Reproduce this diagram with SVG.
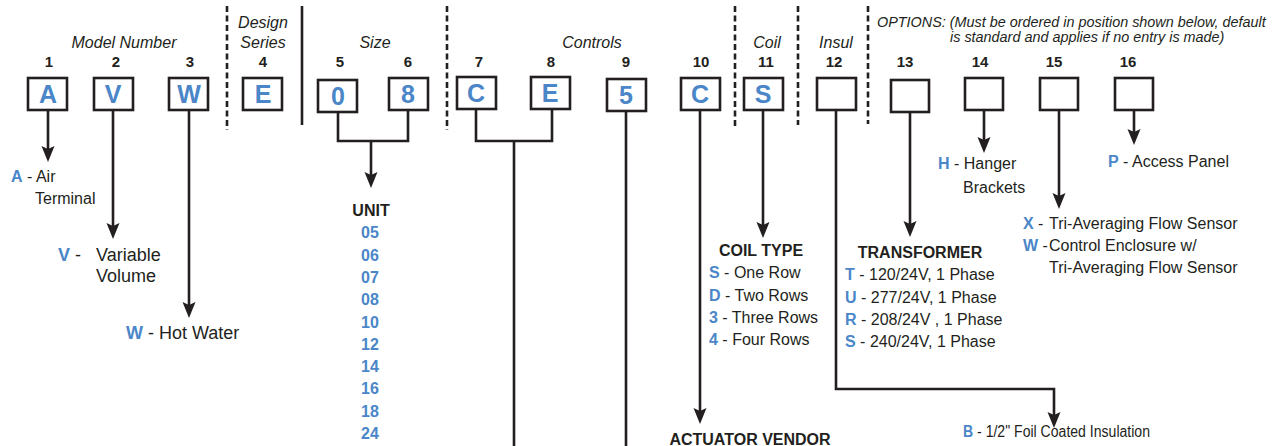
<svg xmlns="http://www.w3.org/2000/svg" width="1283" height="446" viewBox="0 0 1283 446">
<style>
text{font-family:"Liberation Sans",Arial,Helvetica,sans-serif;fill:#231f20}
.h{font-size:16px;font-style:italic}
.o{font-size:14.4px;font-style:italic}
.n{font-size:15px;font-weight:bold;text-anchor:middle}
.bx{font-size:25px;font-weight:bold;fill:#4a86c8;text-anchor:middle}
.t{font-size:16px}
.tl{font-size:18px}
.k{font-weight:bold;fill:#4a86c8}
.lb{font-size:16px;font-weight:bold;text-anchor:middle}
.u{font-size:16px;font-weight:bold;fill:#4a86c8;text-anchor:middle}
.box{fill:#fff;stroke:#231f20;stroke-width:2.6}
.ln{fill:none;stroke:#231f20;stroke-width:2.6}
.ar{fill:none;stroke:#231f20;stroke-width:2.6;marker-end:url(#ah)}
.sep{stroke:#231f20;stroke-width:2.6;stroke-dasharray:6 3.5}
.sol{stroke:#231f20;stroke-width:2.6}
</style>
<defs>
<marker id="ah" markerUnits="userSpaceOnUse" viewBox="0 -7 17 14" markerWidth="17" markerHeight="14" refX="6" refY="0" orient="auto">
<path d="M0,-6.5 L16,0 L0,6.5 L3,0 Z" fill="#231f20"/>
</marker>
</defs>

<g id="headers">
<text class="h" x="124" y="48" text-anchor="middle">Model Number</text>
<text class="h" x="263" y="28" text-anchor="middle">Design</text>
<text class="h" x="263" y="48" text-anchor="middle">Series</text>
<text class="h" x="375" y="48" text-anchor="middle">Size</text>
<text class="h" x="592" y="48" text-anchor="middle">Controls</text>
<text class="h" x="767" y="48" text-anchor="middle">Coil</text>
<text class="h" x="836" y="48" text-anchor="middle">Insul</text>
<text class="o" x="877" y="27">OPTIONS: (Must be ordered in position shown below, default</text>
<text class="o" x="950" y="42">is standard and applies if no entry is made)</text>
</g>

<g id="separators">
<line class="sep" x1="227" y1="6" x2="227" y2="130"/>
<line class="sol" x1="302" y1="6" x2="302" y2="125"/>
<line class="sep" x1="447" y1="6" x2="447" y2="130"/>
<line class="sep" x1="735" y1="6" x2="735" y2="128"/>
<line class="sep" x1="798" y1="6" x2="798" y2="125"/>
<line class="sep" x1="868" y1="6" x2="868" y2="124"/>
</g>

<g id="connectors">
<path class="ar" d="M48,110 V152"/>
<path class="ar" d="M113,110 V229"/>
<path class="ar" d="M189,110 V308"/>
<path class="ln" d="M338,112 V141 H408 V110"/>
<path class="ar" d="M371,141 V178"/>
<path class="ln" d="M476,109 V141 H552 V109"/>
<path class="ln" d="M514,141 V446"/>
<path class="ln" d="M626,111 V446"/>
<path class="ar" d="M700,110 V414"/>
<path class="ar" d="M763,110 V228"/>
<path class="ar" d="M836,110 V389 H1054 V418"/>
<path class="ar" d="M910,112 V227"/>
<path class="ar" d="M984,110 V143"/>
<path class="ar" d="M1059,110 V199"/>
<path class="ar" d="M1134,110 V135"/>
</g>

<g id="pos1"><text class="n" x="49" y="67">1</text><rect class="box" x="28" y="78" width="39" height="32"/><text class="bx" x="48" y="103">A</text></g>
<g id="pos2"><text class="n" x="116" y="67">2</text><rect class="box" x="94" y="78" width="39" height="32"/><text class="bx" x="113" y="103">V</text></g>
<g id="pos3"><text class="n" x="190" y="67">3</text><rect class="box" x="169" y="78" width="39" height="32"/><text class="bx" x="189" y="103">W</text></g>
<g id="pos4"><text class="n" x="263" y="67">4</text><rect class="box" x="243" y="78" width="39" height="32"/><text class="bx" x="263" y="103">E</text></g>
<g id="pos5"><text class="n" x="340" y="67">5</text><rect class="box" x="318" y="80" width="39" height="32"/><text class="bx" x="338" y="105">0</text></g>
<g id="pos6"><text class="n" x="408" y="67">6</text><rect class="box" x="389" y="78" width="39" height="32"/><text class="bx" x="408" y="103">8</text></g>
<g id="pos7"><text class="n" x="479" y="67">7</text><rect class="box" x="457" y="77" width="39" height="32"/><text class="bx" x="476" y="102">C</text></g>
<g id="pos8"><text class="n" x="551" y="67">8</text><rect class="box" x="531" y="77" width="39" height="32"/><text class="bx" x="550" y="102">E</text></g>
<g id="pos9"><text class="n" x="626" y="67">9</text><rect class="box" x="607" y="79" width="39" height="32"/><text class="bx" x="626" y="104">5</text></g>
<g id="pos10"><text class="n" x="701" y="67">10</text><rect class="box" x="681" y="78" width="39" height="32"/><text class="bx" x="700" y="103">C</text></g>
<g id="pos11"><text class="n" x="766" y="67">11</text><rect class="box" x="744" y="78" width="39" height="32"/><text class="bx" x="763" y="103">S</text></g>
<g id="pos12"><text class="n" x="834" y="67">12</text><rect class="box" x="817" y="78" width="39" height="32"/></g>
<g id="pos13"><text class="n" x="905" y="67">13</text><rect class="box" x="891" y="80" width="38" height="32"/></g>
<g id="pos14"><text class="n" x="980" y="67">14</text><rect class="box" x="965" y="78" width="38" height="32"/></g>
<g id="pos15"><text class="n" x="1054" y="67">15</text><rect class="box" x="1040" y="78" width="38" height="32"/></g>
<g id="pos16"><text class="n" x="1128" y="67">16</text><rect class="box" x="1115" y="78" width="38" height="32"/></g>

<g id="model-type">
<text class="t" x="11" y="182"><tspan class="k">A</tspan> - Air</text>
<text class="t" x="35" y="204">Terminal</text>
</g>
<g id="volume">
<text class="tl" x="58" y="261"><tspan class="k">V</tspan> -</text>
<text class="tl" x="96" y="261">Variable</text>
<text class="tl" x="96" y="282">Volume</text>
</g>
<g id="heat">
<text class="tl" x="126" y="339"><tspan class="k">W</tspan> - Hot Water</text>
</g>

<g id="unit">
<text class="lb" x="371" y="216">UNIT</text>
<text class="u" x="370" y="238">05</text>
<text class="u" x="370" y="261">06</text>
<text class="u" x="370" y="283">07</text>
<text class="u" x="370" y="305">08</text>
<text class="u" x="370" y="328">10</text>
<text class="u" x="370" y="350">12</text>
<text class="u" x="370" y="372">14</text>
<text class="u" x="370" y="394">16</text>
<text class="u" x="370" y="417">18</text>
<text class="u" x="370" y="439">24</text>
</g>

<g id="actuator">
<text class="lb" x="750" y="445">ACTUATOR VENDOR</text>
</g>

<g id="coil-type">
<text class="lb" x="761" y="256">COIL TYPE</text>
<text class="t" x="709" y="278"><tspan class="k">S</tspan> - One Row</text>
<text class="t" x="709" y="301"><tspan class="k">D</tspan> - Two Rows</text>
<text class="t" x="709" y="323"><tspan class="k">3</tspan> - Three Rows</text>
<text class="t" x="709" y="345"><tspan class="k">4</tspan> - Four Rows</text>
</g>

<g id="transformer">
<text class="lb" x="920" y="258">TRANSFORMER</text>
<text class="t" x="845" y="280"><tspan class="k">T</tspan> - 120/24V, 1 Phase</text>
<text class="t" x="845" y="303"><tspan class="k">U</tspan> - 277/24V, 1 Phase</text>
<text class="t" x="845" y="325"><tspan class="k">R</tspan> - 208/24V , 1 Phase</text>
<text class="t" x="845" y="347"><tspan class="k">S</tspan> - 240/24V, 1 Phase</text>
</g>

<g id="insulation">
<text class="t" x="963" y="437" textLength="187" lengthAdjust="spacingAndGlyphs"><tspan class="k">B</tspan> - 1/2" Foil Coated Insulation</text>
</g>

<g id="hanger">
<text class="t" x="938" y="169"><tspan class="k">H</tspan> - Hanger</text>
<text class="t" x="963" y="193">Brackets</text>
</g>

<g id="flow-sensor">
<text class="t" x="1023" y="229"><tspan class="k">X</tspan> -</text>
<text class="t" x="1049" y="229">Tri-Averaging Flow Sensor</text>
<text class="t" x="1023" y="251"><tspan class="k">W</tspan> -</text>
<text class="t" x="1049" y="251">Control Enclosure w/</text>
<text class="t" x="1049" y="273">Tri-Averaging Flow Sensor</text>
</g>

<g id="access">
<text class="t" x="1108" y="167"><tspan class="k">P</tspan> - Access Panel</text>
</g>
</svg>
